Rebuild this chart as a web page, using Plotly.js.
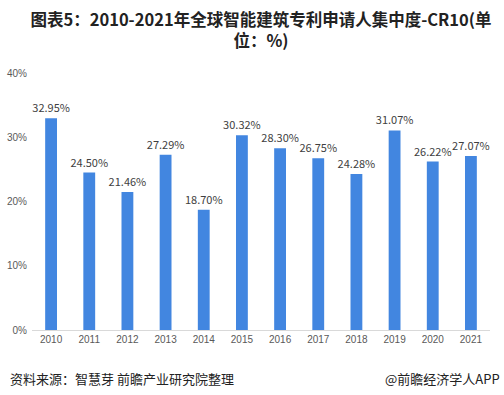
<!DOCTYPE html>
<html>
<head>
<meta charset="utf-8">
<script src="https://cdn.plot.ly/plotly-3.0.1.min.js"></script>
<style>html,body{margin:0;padding:0;background:#fff;}#chart{width:504px;height:395px;}</style>
</head>
<body>
<div id="chart"></div>
<script>
const years = ['2010','2011','2012','2013','2014','2015','2016','2017','2018','2019','2020','2021'];
const cr10 = [32.95, 24.50, 21.46, 27.29, 18.70, 30.32, 28.30, 26.75, 24.28, 31.07, 26.22, 27.07];
const yTickVals = [0, 10, 20, 30, 40];
const yTickText = ['0%', '10%', '20%', '30%', '40%'];
const titleText = '图表5：2010-2021年全球智能建筑专利申请人集中度-CR10(单<br>位：%)';
const sourceText = '资料来源：智慧芽 前瞻产业研究院整理';
const creditText = '@前瞻经济学人APP';

const cjk = '"Noto Sans CJK SC", "Noto Sans", sans-serif';

const trace = {
  type: 'bar',
  x: years,
  y: cr10,
  marker: {color: '#4286e0'},
  text: cr10.map(v => v.toFixed(2) + '%'),
  textposition: 'outside',
  constraintext: 'none',
  textfont: {family: cjk, size: 11, color: '#404040'},
  cliponaxis: false,
  hoverinfo: 'none'
};

const layout = {
  width: 504,
  height: 395,
  margin: {l: 32, r: 14, t: 73, b: 65},
  paper_bgcolor: '#fff',
  plot_bgcolor: '#fff',
  bargap: 0.69,
  showlegend: false,
  title: {
    text: titleText,
    font: {family: cjk, size: 16.5, color: '#222', weight: 'bold'},
    x: 0.5, xanchor: 'center', xref: 'paper',
    y: 0.935, yanchor: 'middle', yref: 'container'
  },
  xaxis: {
    type: 'category',
    showgrid: false,
    showline: true,
    linecolor: '#d9d9d9',
    linewidth: 1,
    ticks: '',
    tickfont: {family: 'Arial, "Liberation Sans", sans-serif', size: 10, color: '#595959'},
    fixedrange: true
  },
  yaxis: {
    range: [0, 40],
    tickvals: yTickVals,
    ticktext: yTickText,
    showgrid: false,
    zeroline: false,
    showline: false,
    ticks: '',
    ticklabelstandoff: 4,
    tickfont: {family: 'Arial, "Liberation Sans", sans-serif', size: 10, color: '#595959'},
    fixedrange: true
  },
  annotations: [
    {text: sourceText, xref: 'paper', yref: 'paper', x: -0.052, y: -0.19, xanchor: 'left', yanchor: 'middle', showarrow: false,
     font: {family: cjk, size: 13, color: '#222'}},
    {text: creditText, xref: 'paper', yref: 'paper', x: 1.027, y: -0.19, xanchor: 'right', yanchor: 'middle', showarrow: false,
     font: {family: cjk, size: 13, color: '#222'}}
  ]
};

Plotly.newPlot('chart', [trace], layout, {displayModeBar: false, staticPlot: true});
</script>
</body>
</html>
